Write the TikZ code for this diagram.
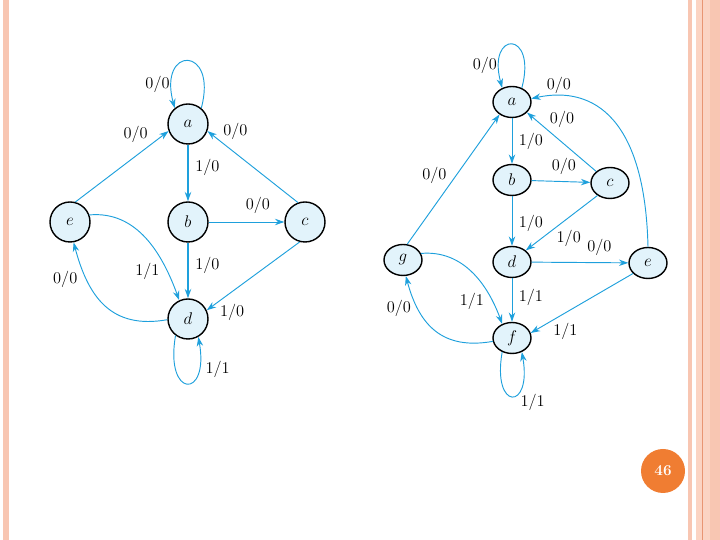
\documentclass[tikz,border=0pt]{standalone}
\usepackage{tikz}
\usetikzlibrary{shapes.geometric, arrows.meta}
\definecolor{edgeblue}{RGB}{30,160,220}
\definecolor{nodefill}{RGB}{226,243,251}
\definecolor{framepeach}{RGB}{248,198,178}
\definecolor{framelight}{RGB}{251,212,195}
\definecolor{framedark}{RGB}{232,150,115}
\definecolor{pageorange}{RGB}{240,125,50}

\begin{document}
\begin{tikzpicture}[x=0.03cm, y=0.03cm,
    circ/.style={circle, draw=black, line width=1.2pt, fill=nodefill, minimum size=1.2cm,
                 inner sep=0pt, font=\fontsize{14}{16}\selectfont},
    ell/.style={ellipse, draw=black, line width=1.2pt, fill=nodefill, minimum width=1.14cm,
                minimum height=0.93cm, inner sep=0pt, font=\fontsize{14}{16}\selectfont},
    fl/.style={-{Stealth[length=8pt,width=5.5pt]}, line width=0.8pt, edgeblue},
    flb/.style={fl, line width=1.6pt},
    lbl/.style={font=\fontsize{14}{16}\selectfont, inner sep=1.5pt, text=black}
]
\useasboundingbox (0,0) rectangle (720,540);
% slide frame
\fill[framepeach] (3,0) rectangle (9,540);
\fill[framepeach] (688,0) rectangle (692,540);
\fill[framelight] (696,0) rectangle (720,540);
\fill[framepeach] (710,0) rectangle (720,540);
\draw[framedark, line width=0.6pt] (702,0) -- (702,540);
\node[circle, fill=pageorange, minimum size=1.32cm, text=white, font=\fontsize{13}{15}\bfseries] (pg) at (663,69) {46};

% left machine
\node[circ] (La) at (188,416) {$a$};
\node[circ] (Lb) at (188,318) {$b$};
\node[circ] (Lc) at (305,318) {$c$};
\node[circ] (Le) at (70,318)  {$e$};
\node[circ] (Ld) at (188,221) {$d$};

\draw[fl] (La.50) .. controls +(75:65) and +(105:65) .. (La.130) node[lbl,pos=0.85,left]{0/0};
\draw[fl] (Le.75) -- node[lbl,pos=0.8,above left]{0/0} (La.200);
\draw[fl] (Lc.110) -- node[lbl,pos=0.85,above right]{0/0} (La.-20);
\draw[flb] (La) -- node[lbl,pos=0.4,right=4pt]{1/0} (Lb);
\draw[fl] (Lb) -- node[lbl,pos=0.65,above=5pt]{0/0} (Lc);
\draw[flb] (Lb) -- node[lbl,pos=0.4,right=4pt]{1/0} (Ld);
\draw[fl] (Lc.255) -- node[lbl,pos=0.88,below right]{1/0} (Ld.25);
\draw[fl] (Le.20) to[out=5,in=110] node[lbl,pos=0.7,below left]{1/1} (Ld.115);
\draw[fl] (Ld.182) to[out=190,in=-75,looseness=1.2] node[lbl,pos=0.75,left=6pt]{0/0} (Le.-80);
\draw[fl] (Ld.233) .. controls +(260:64) and +(280:64) .. (Ld.300) node[lbl,pos=0.78,right=4pt]{1/1};

% right machine
\node[ell] (Ra) at (512,438) {$a$};
\node[ell] (Rb) at (512,360) {$b$};
\node[ell] (Rc) at (610,357) {$c$};
\node[ell] (Rd) at (512,278) {$d$};
\node[ell] (Re) at (648,277) {$e$};
\node[ell] (Rg) at (403,280) {$g$};
\node[ell] (Rf) at (512,202) {$f$};

\draw[fl] (Ra.55) .. controls +(75:60) and +(105:60) .. (Ra.125) node[lbl,pos=0.85,left]{0/0};
\draw[fl] (Re.north) .. controls (645,420) and (595,455) .. (Ra.10) node[lbl,pos=0.85,above]{0/0};
\draw[fl] (Rc.140) -- node[lbl,pos=0.7,above right]{0/0} (Ra.-35);
\draw[fl] (Ra) -- node[lbl,pos=0.5,right=4pt]{1/0} (Rb);
\draw[fl] (Rb) -- node[lbl,pos=0.55,above=4pt]{0/0} (Rc);
\draw[fl] (Rb) -- node[lbl,pos=0.55,right=4pt]{1/0} (Rd);
\draw[fl] (Rc.225) -- node[lbl,pos=0.6,below right]{1/0} (Rd.40);
\draw[fl] (Rd) -- node[lbl,pos=0.7,above=4pt]{0/0} (Re);
\draw[fl] (Rd) -- node[lbl,pos=0.45,right=4pt]{1/1} (Rf);
\draw[fl] (Re.215) -- node[lbl,pos=0.8,below right]{1/1} (Rf.15);
\draw[fl] (Rg.75) -- node[lbl,pos=0.45,above left]{0/0} (Ra.225);
\draw[fl] (Rg.20) to[out=5,in=110] node[lbl,pos=0.7,below left]{1/1} (Rf.125);
\draw[fl] (Rf.190) to[out=190,in=-75,looseness=1.2] node[lbl,pos=0.75,left=4pt]{0/0} (Rg.-80);
\draw[fl] (Rf.235) .. controls +(260:60) and +(280:60) .. (Rf.305) node[lbl,pos=0.65,below right]{1/1};
\end{tikzpicture}
\end{document}
